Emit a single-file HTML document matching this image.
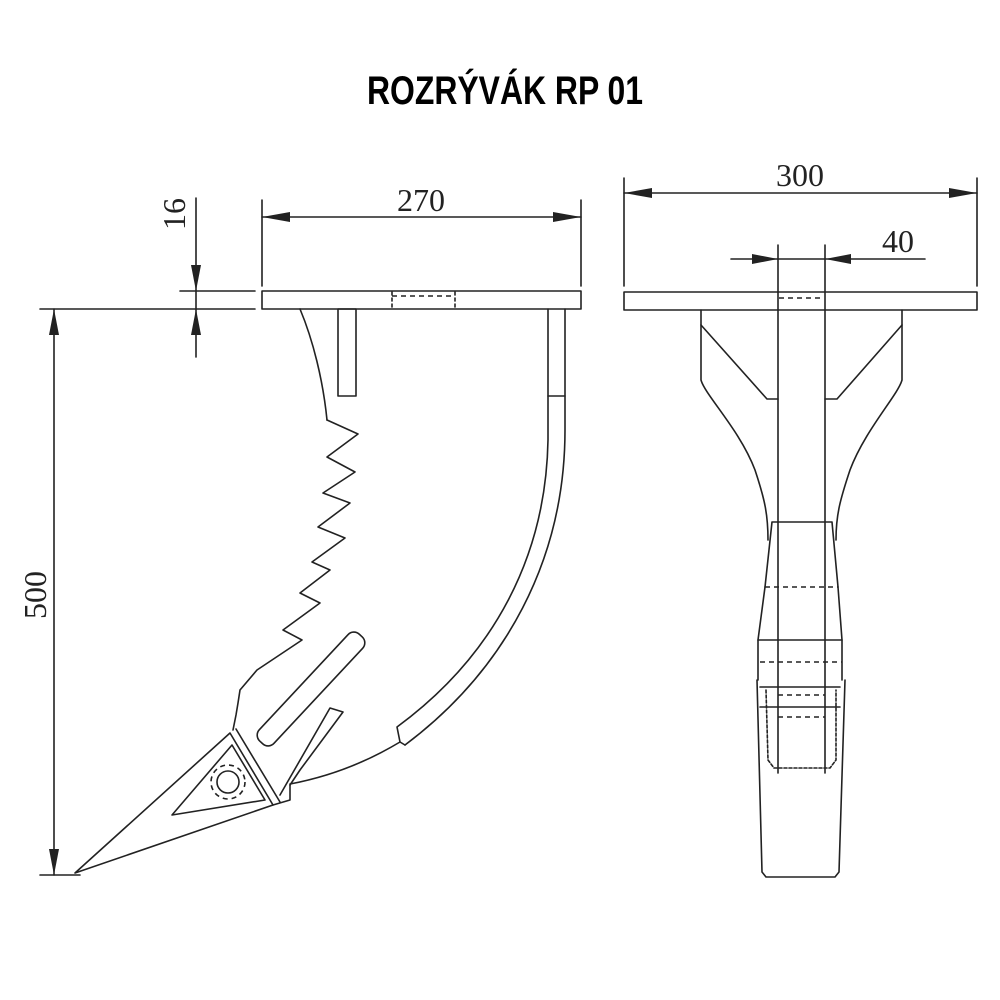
<!DOCTYPE html>
<html><head><meta charset="utf-8"><style>
html,body{margin:0;padding:0;background:#fff;}
svg{display:block;}
.l{fill:none;stroke:#222;stroke-width:1.6;stroke-linejoin:round;stroke-linecap:round;}
.d{fill:none;stroke:#222;stroke-width:1.6;stroke-dasharray:5 4;}
.t{font-family:"Liberation Serif",serif;font-size:32px;fill:#222;}
</style></head><body>
<svg width="1000" height="1000" viewBox="0 0 1000 1000" xmlns="http://www.w3.org/2000/svg">
<text x="505" y="104" text-anchor="middle" textLength="276" lengthAdjust="spacingAndGlyphs" style="font-family:'Liberation Sans Narrow','Liberation Sans',sans-serif;font-weight:bold;font-size:40px;fill:#000">ROZRÝVÁK RP 01</text>

<line class="l" x1="262" y1="200" x2="262" y2="286"/>
<line class="l" x1="581" y1="200" x2="581" y2="286"/>
<line class="l" x1="262" y1="217" x2="581" y2="217"/>
<polygon points="262,217 290,212 290,222" fill="#222"/>
<polygon points="581,217 553,212 553,222" fill="#222"/>
<text class="t" x="421" y="211" text-anchor="middle">270</text>

<line class="l" x1="196" y1="198" x2="196" y2="357"/>
<polygon points="196,291 191,265 201,265" fill="#222"/>
<polygon points="196,309 191,335 201,335" fill="#222"/>
<line class="l" x1="180" y1="291" x2="255" y2="291"/>
<line class="l" x1="40" y1="309" x2="255" y2="309"/>
<text class="t" transform="translate(185,214) rotate(-90)" text-anchor="middle">16</text>

<line class="l" x1="54" y1="309" x2="54" y2="875"/>
<polygon points="54,309 49,335 59,335" fill="#222"/>
<polygon points="54,875 49,849 59,849" fill="#222"/>
<line class="l" x1="40" y1="875" x2="80" y2="875"/>
<text class="t" transform="translate(46,595) rotate(-90)" text-anchor="middle">500</text>

<rect class="l" x="262" y="291" width="319" height="18"/>
<line class="d" x1="392" y1="296" x2="455" y2="296"/>
<line class="l" x1="392" y1="292" x2="392" y2="308" stroke-dasharray="3 3"/>
<line class="l" x1="455" y1="292" x2="455" y2="308" stroke-dasharray="3 3"/>

<rect class="l" x="338" y="309" width="18" height="87"/>
<path class="l" d="M300,309 C313,340 323,380 327,420"/>
<path class="l" d="M565,309 L565,430 C565,560 505,670 405,745"/>
<path class="l" d="M548,309 L548,440 C546,555 495,655 397,727 L400,742 L405,745"/>
<line class="l" x1="548" y1="396" x2="565" y2="396"/>
<path class="l" d="M400,742 C360,766 322,778 290,784"/>
<polyline class="l" points="327,420 358,434 327,457 355,472 323,493 350,503 318,527 345,538 312,562 330,570 300,593 320,603 283,630 302,640 257,670 240,690 238,703 236,715 233,730"/>
<rect class="l" x="238" y="679" width="146" height="20" rx="8" transform="rotate(-47 311 689)"/>
<polyline class="l" points="280,795 330,708 343,712 300,770 290,785"/>
<polygon class="l" points="75,873 230,733 273,805"/>
<line class="l" x1="236" y1="729" x2="280" y2="802"/>
<polygon class="l" points="172,815 232,745 265,800"/>
<circle class="l" cx="228" cy="782" r="11"/>
<circle class="d" cx="228" cy="782" r="17" stroke-dasharray="4 3"/>
<path class="l" d="M273,805 L290,800 L290,785"/>

<line class="l" x1="624" y1="178" x2="624" y2="286"/>
<line class="l" x1="977" y1="178" x2="977" y2="286"/>
<line class="l" x1="624" y1="193" x2="977" y2="193"/>
<polygon points="624,193 652,188 652,198" fill="#222"/>
<polygon points="977,193 949,188 949,198" fill="#222"/>
<text class="t" x="800" y="186" text-anchor="middle">300</text>
<line class="l" x1="731" y1="259" x2="925" y2="259"/>
<polygon points="778,259 752,254 752,264" fill="#222"/>
<polygon points="825,259 851,254 851,264" fill="#222"/>
<text class="t" x="898" y="252" text-anchor="middle">40</text>

<rect class="l" x="624" y="292" width="353" height="18"/>
<line class="d" x1="779" y1="298" x2="824" y2="298"/>
<line class="l" x1="778" y1="245" x2="778" y2="773"/>
<line class="l" x1="825" y1="245" x2="825" y2="773"/>

<path class="l" d="M701,310 L701,380 C705,395 740,430 755,470 C765,500 768,515 768,540"/>
<polyline class="l" points="701,325 767,399 778,399"/>
<path class="l" d="M902,310 L902,380 C898,395 865,430 850,470 C840,500 836,515 836,540"/>
<polyline class="l" points="902,325 837,399 825,399"/>

<polyline class="l" points="765,587 772,522 832,522 838,587"/>
<line class="d" x1="765" y1="587" x2="838" y2="587"/>
<path class="l" d="M765,587 L758,640 L758,680"/>
<path class="l" d="M838,587 L842,640 L842,680"/>
<line class="l" x1="758" y1="640" x2="842" y2="640"/>
<line class="d" x1="760" y1="662" x2="842" y2="662"/>
<line class="l" x1="760" y1="687" x2="840" y2="687"/>
<line class="d" x1="778" y1="695" x2="825" y2="695"/>
<line class="l" x1="760" y1="707" x2="840" y2="707"/>
<line class="d" x1="778" y1="717" x2="825" y2="717"/>
<path class="l" d="M766,690 L768,760 L774,768 L830,768 L836,760 L836,690" stroke-dasharray="3 2"/>
<path class="l" d="M757,680 L762,872 L766,877 L835,877 L839,872 L845,680"/>
</svg>
</body></html>
